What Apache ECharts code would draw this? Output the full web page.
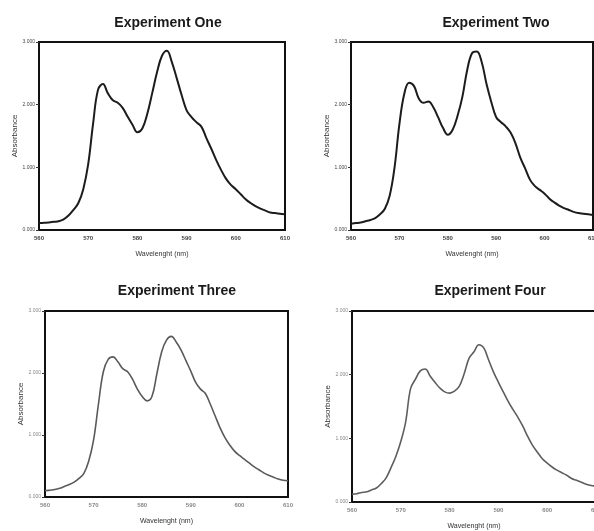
<!DOCTYPE html>
<html>
<head>
<meta charset="utf-8">
<script src="https://cdn.jsdelivr.net/npm/echarts@6/dist/echarts.min.js"></script>
<style>
  html, body { margin: 0; padding: 0; background: #fff; }
  #main { width: 594px; height: 531px; }
</style>
</head>
<body>
<div id="main"></div>
<script>
// wavelength in nm, 1 nm steps
var wavelength = [];
for (var w = 560; w <= 610; w++) wavelength.push(w);

var expOne = [0.11, 0.115, 0.12, 0.13, 0.14, 0.17, 0.23, 0.32, 0.43, 0.65,
  1.05, 1.70, 2.24, 2.33, 2.18, 2.07, 2.03, 1.95, 1.81, 1.68,
  1.56, 1.62, 1.85, 2.18, 2.52, 2.78, 2.86, 2.68, 2.42, 2.15,
  1.91, 1.80, 1.72, 1.65, 1.47, 1.30, 1.12, 0.96, 0.82, 0.72,
  0.65, 0.57, 0.49, 0.43, 0.38, 0.34, 0.31, 0.28, 0.27, 0.26, 0.25];

var expTwo = [0.10, 0.11, 0.12, 0.14, 0.16, 0.19, 0.25, 0.34, 0.55, 1.00,
  1.69, 2.17, 2.35, 2.30, 2.10, 2.03, 2.05, 1.96, 1.80, 1.63,
  1.52, 1.60, 1.82, 2.12, 2.55, 2.82, 2.85, 2.68, 2.33, 2.04,
  1.80, 1.72, 1.65, 1.55, 1.38, 1.15, 0.98, 0.80, 0.70, 0.64,
  0.58, 0.50, 0.44, 0.39, 0.35, 0.32, 0.29, 0.27, 0.26, 0.25, 0.24];

var expThree = [0.10, 0.11, 0.12, 0.14, 0.17, 0.20, 0.24, 0.30, 0.38, 0.58,
  0.92, 1.50, 2.02, 2.22, 2.26, 2.18, 2.07, 2.02, 1.90, 1.74,
  1.62, 1.55, 1.62, 1.98, 2.34, 2.53, 2.59, 2.50, 2.37, 2.20,
  2.03, 1.85, 1.74, 1.67, 1.50, 1.31, 1.12, 0.96, 0.84, 0.74,
  0.67, 0.61, 0.55, 0.49, 0.44, 0.39, 0.35, 0.32, 0.29, 0.27, 0.26];

var expFour = [0.12, 0.13, 0.15, 0.16, 0.19, 0.22, 0.29, 0.38, 0.54, 0.72,
  0.95, 1.26, 1.78, 1.93, 2.06, 2.09, 1.98, 1.88, 1.79, 1.73,
  1.71, 1.74, 1.82, 2.02, 2.26, 2.36, 2.47, 2.42, 2.23, 2.04,
  1.88, 1.73, 1.58, 1.45, 1.33, 1.19, 1.03, 0.89, 0.78, 0.68,
  0.61, 0.55, 0.50, 0.46, 0.42, 0.37, 0.34, 0.31, 0.28, 0.26, 0.25];

var titles = ["Experiment One", "Experiment Two", "Experiment Three", "Experiment Four"];
var allData = [expOne, expTwo, expThree, expFour];

// panel boxes
var boxes = [
  { left: 39, top: 42, width: 246, height: 188 },
  { left: 351, top: 42, width: 242, height: 188 },
  { left: 45, top: 311, width: 243, height: 186 },
  { left: 352, top: 311, width: 244, height: 191 }
];
var titlePos = [[163, 11], [491, 11], [172, 279], [485, 279]];
var lineColors = ["#1c1c1c", "#1c1c1c", "#5a5a5a", "#5e5e5e"];
var lineWidths = [2, 2, 1.6, 1.6];
var labelColors = ["#444", "#444", "#888", "#888"];

var chart = echarts.init(document.getElementById("main"));

var option = {
  animation: false,
  title: [],
  grid: [],
  xAxis: [],
  yAxis: [],
  series: []
};

for (var i = 0; i < 4; i++) {
  option.title.push({
    text: titles[i],
    left: titlePos[i][0],
    top: titlePos[i][1],
    textAlign: "center",
    textStyle: {
      fontFamily: "Liberation Sans",
      fontSize: 14,
      fontWeight: "bold",
      color: "#1a1a1a"
    }
  });
  option.grid.push({
    left: boxes[i].left,
    top: boxes[i].top,
    width: boxes[i].width,
    height: boxes[i].height,
    outerBoundsMode: "none",
    show: true,
    borderColor: "#111",
    borderWidth: 2
  });
  option.xAxis.push({
    type: "value",
    gridIndex: i,
    min: 560,
    max: 610,
    interval: 10,
    name: "Wavelenght (nm)",
    nameLocation: "middle",
    nameGap: 21,
    nameTextStyle: { fontFamily: "Liberation Sans", fontSize: 7, color: "#333" },
    axisLine: { lineStyle: { color: "#111", width: 2 } },
    axisTick: { show: false },
    splitLine: { show: false },
    axisLabel: {
      fontFamily: "Liberation Sans",
      fontSize: 6,
      fontWeight: "bold",
      color: labelColors[i],
      margin: 5
    }
  });
  option.yAxis.push({
    type: "value",
    gridIndex: i,
    min: 0,
    max: 3,
    interval: 1,
    name: "Absorbance",
    nameLocation: "middle",
    nameRotate: 90,
    nameGap: 20,
    nameTextStyle: { fontFamily: "Liberation Sans", fontSize: 8, color: "#333" },
    axisLine: { lineStyle: { color: "#111", width: 2 } },
    axisTick: { show: true, length: 3, lineStyle: { color: "#333" } },
    splitLine: { show: false },
    axisLabel: {
      fontFamily: "Liberation Sans",
      fontSize: 5,
      color: labelColors[i],
      margin: 4,
      formatter: function (v) { return v.toFixed(3); }
    }
  });
  option.series.push({
    type: "line",
    xAxisIndex: i,
    yAxisIndex: i,
    showSymbol: false,
    smooth: 0.4,
    lineStyle: { color: lineColors[i], width: lineWidths[i] },
    data: wavelength.map(function (w, k) { return [w, allData[i][k]]; })
  });
}

chart.setOption(option);
</script>
</body>
</html>
